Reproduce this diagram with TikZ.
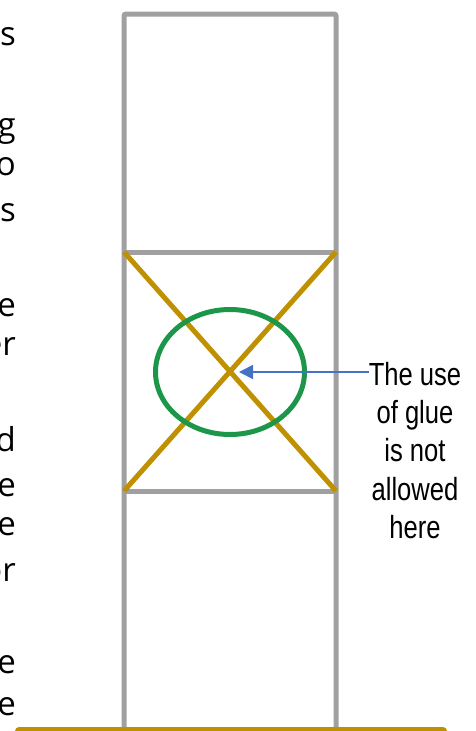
\documentclass[tikz,border=0pt]{standalone}
\usepackage{fontspec}
\newfontfamily\notefont[FakeStretch=0.8]{Liberation Sans}
\newfontfamily\bodyfont{Open Sans}
\usetikzlibrary{positioning,arrows.meta}

\definecolor{frameGray}{HTML}{A0A0A0}
\definecolor{braceGold}{HTML}{BF9000}
\definecolor{glueGreen}{RGB}{28,150,72}
\definecolor{noteBlue}{HTML}{4472C4}

\begin{document}
\begin{tikzpicture}[x=1pt,y=-1pt,
  frame/.style={draw=frameGray,line width=5pt},
  brace/.style={draw=braceGold,line width=5pt},
  cut/.style={font=\bodyfont\fontsize{33}{40}\selectfont,anchor=base east,inner sep=0pt},
  pointer/.style={draw=noteBlue,line width=1.8pt,-{Triangle[length=14pt,width=14pt]}}]
\useasboundingbox (0,0) rectangle (476,731);
% text of the page, cut at the left margin
\foreach \w/\y in {s/45.5,g/136.5,o/175.5,s/221.5,e/316.5,er/355.5,d/451.5,e/496.5,e/535.5,or/581.5,e/673.5,e/715.5}
  \node[cut] at (16,\y) {\w};
% the post and its panels
\draw[frame,rounded corners=2pt] (124,731) -- (124,14) -- (336,14) -- (336,731);
\draw[frame] (124,252) -- (336,252);
\draw[frame] (124,491) -- (336,491);
% cross bracing of the middle panel
\draw[brace] (124,252) -- (336,491);
\draw[brace] (336,252) -- (124,491);
\coordinate (cross) at (230,372);
\draw[draw=glueGreen,line width=5pt] (cross) ellipse (74.5 and 62.5);
% base rail
\draw[braceGold,line width=8pt,line cap=round] (19,731) -- (443,731);
% note on the right
\node[font=\notefont\fontsize{32}{38.3}\selectfont,align=center,inner sep=0pt,anchor=north] (note) at (415,362)
  {The use\\of glue\\is not\\allowed\\here};
\draw[pointer,shorten >=9pt] (note.west |- cross) -- (cross);
\end{tikzpicture}
\end{document}
